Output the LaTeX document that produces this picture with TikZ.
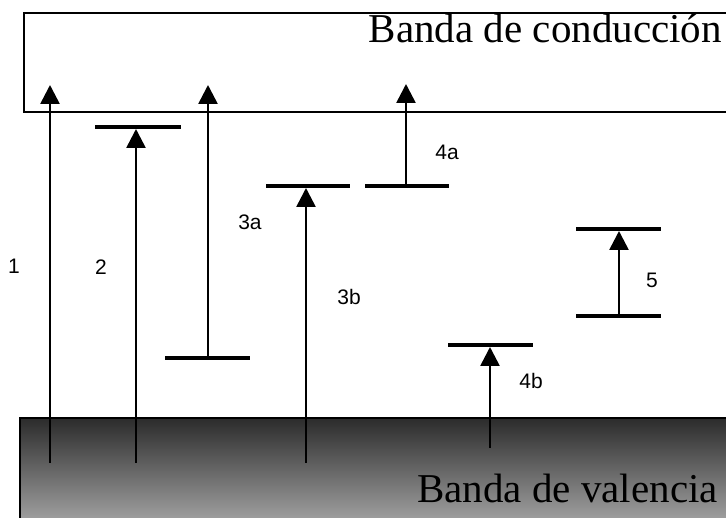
\documentclass[tikz,border=0pt]{standalone}
\usepackage{fontspec}
\setmainfont{Liberation Serif}
\newfontfamily\labfont{Liberation Sans}
\usetikzlibrary{arrows.meta}
\begin{document}
\begin{tikzpicture}[x=1pt,y=-1pt,
  arr/.style={line width=2.6pt,-{Triangle[width=19pt,length=19pt]}},
  plain/.style={line width=2.6pt},
  lvl/.style={line width=4.5pt},
  num/.style={font=\labfont\fontsize{21}{21}\selectfont, inner sep=0pt},
  bandtext/.style={font=\fontsize{41}{41}\selectfont, inner sep=0pt}]
\useasboundingbox (0,0) rectangle (726,518);
% conduction band
\draw[line width=1.5pt] (727,13) -- (24,13) -- (24,112) -- (727,112);
\node[bandtext, anchor=base east] (cb) at (722,43) {Banda de conducción};
% valence band
\shade[top color=black!83, bottom color=black!38] (20,418) rectangle (727,519);
\draw[line width=2pt] (20,519) -- (20,418) -- (727,418);
\node[bandtext, anchor=base east] (vb) at (718,503) {Banda de valencia};
% levels
\coordinate (b2L) at (95,127);  \coordinate (b2R) at (181,127);
\coordinate (b3aL) at (165,358); \coordinate (b3aR) at (250,358);
\coordinate (b3bL) at (266,186); \coordinate (b3bR) at (350,186);
\coordinate (b4aL) at (365,186); \coordinate (b4aR) at (449,186);
\coordinate (b4bL) at (448,345); \coordinate (b4bR) at (533,345);
\coordinate (b5tL) at (576,229); \coordinate (b5tR) at (661,229);
\coordinate (b5bL) at (576,316); \coordinate (b5bR) at (661,316);
\foreach \n in {2,3a,3b,4a,4b,5t,5b} \draw[lvl] (b\n L) -- (b\n R);
% arrow endpoints
\coordinate (s1) at (50,463);   \coordinate (e1) at (50,85);
\coordinate (s2) at (136,463);  \coordinate (e2) at (136,129);
\coordinate (s3a) at (208,358); \coordinate (e3a) at (208,85);
\coordinate (s3b) at (306,463); \coordinate (e3b) at (306,188);
\coordinate (s4a) at (406,186); \coordinate (e4a) at (406,84);
\coordinate (s4b) at (490,448); \coordinate (e4b) at (490,347);
\coordinate (s5) at (619,316);  \coordinate (e5) at (619,231);
\foreach \n in {1,2,3a,3b,4a,4b,5} \draw[arr] (s\n) -- (e\n);
% labels
\node[num] (l1) at (14,266) {1};
\node[num] (l2) at (101,267) {2};
\node[num] (l3a) at (250,222) {3a};
\node[num] (l3b) at (349,297) {3b};
\node[num] (l4a) at (447,152) {4a};
\node[num] (l4b) at (531,381) {4b};
\node[num] (l5) at (652,280) {5};
\end{tikzpicture}
\end{document}
